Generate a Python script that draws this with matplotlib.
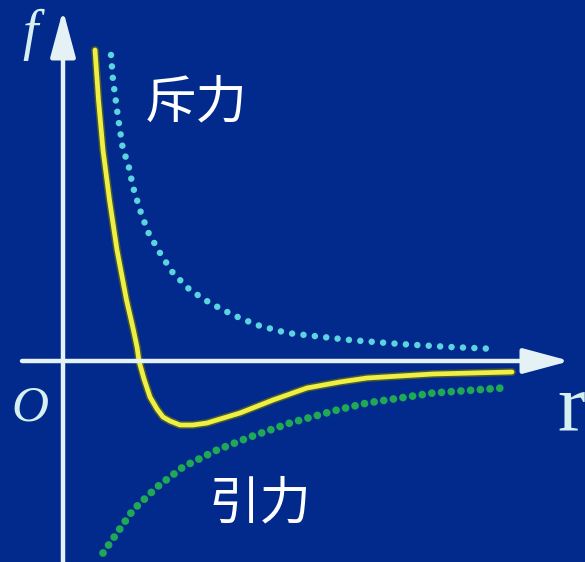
import matplotlib
matplotlib.use("Agg")
import matplotlib.pyplot as plt
import matplotlib.patheffects as pe

# net intermolecular force f(r)
net_r = [0.32, 0.355, 0.40, 0.465, 0.54, 0.635, 0.70, 0.74, 0.76, 0.81, 0.87,
         0.94, 1.00, 1.07, 1.17, 1.30, 1.44, 1.77, 2.10, 2.44, 2.77, 3.04,
         3.70, 4.49]
net_f = [3.11, 2.61, 2.11, 1.61, 1.11, 0.61, 0.33, 0.14, 0.00, -0.18, -0.36,
         -0.48, -0.56, -0.60, -0.64, -0.64, -0.62, -0.52, -0.39, -0.27,
         -0.21, -0.17, -0.13, -0.11]

# repulsive component
rep_r = [0.48, 0.50, 0.55, 0.60, 0.65, 0.70, 0.77, 0.85, 0.97, 1.10, 1.27,
         1.47, 1.70, 1.94, 2.24, 2.87, 3.37, 3.87, 4.34]
rep_f = [3.06, 2.81, 2.44, 2.11, 1.98, 1.74, 1.51, 1.29, 1.08, 0.88, 0.71,
         0.58, 0.46, 0.36, 0.28, 0.21, 0.17, 0.14, 0.12]

# attractive component
att_r = [0.40, 0.54, 0.70, 0.94, 1.20, 1.54, 1.87, 2.27, 2.74, 3.04, 3.70, 4.39]
att_f = [-1.92, -1.72, -1.49, -1.26, -1.06, -0.89, -0.76, -0.62, -0.49,
         -0.42, -0.32, -0.27]

bg = "#022a8c"
axis_col = "#e4f2f6"

fig = plt.figure(figsize=(5.85, 5.62), dpi=100)
fig.patch.set_facecolor(bg)
ax = fig.add_axes([0, 0, 1, 1])
ax.set_facecolor(bg)
ax.set_xlim(-0.63, 5.22)
ax.set_ylim(-2.01, 3.61)
ax.axis("off")

# axes with arrow heads
arrow = dict(arrowstyle="-|>,head_length=1.3,head_width=0.35",
             lw=3.2, color=axis_col, mutation_scale=22, shrinkA=0, shrinkB=0)
ax.annotate("", xy=(0, 3.51), xytext=(0, -2.1), arrowprops=arrow)
ax.annotate("", xy=(5.07, 0), xytext=(-0.41, 0), arrowprops=arrow)

# repulsion: cyan dots
ax.plot(rep_r, rep_f, color="#5cd4e0", lw=4.7, linestyle=(0, (0.001, 1.75)),
        dash_capstyle="round")
# attraction: green dots
ax.plot(att_r, att_f, color="#1fa855", lw=5.6, linestyle=(0, (0.001, 1.25)),
        dash_capstyle="round")
# resultant: yellow solid with dark rim
ax.plot(net_r, net_f, color="#eef046", lw=3.4, solid_capstyle="round",
        path_effects=[pe.Stroke(linewidth=5.6, foreground="#4a5a30"), pe.Normal()])

serif = ["Liberation Serif", "DejaVu Serif"]
ax.text(-0.33, 3.26, "f", family=serif, style="italic", fontsize=40,
        color="#d6f0f2", ha="center", va="center")
ax.text(-0.33, -0.47, "O", family=serif, style="italic", fontsize=37,
        color="#d6f0f2", ha="center", va="center")
ax.text(4.94, -0.70, "r", family=serif, fontsize=60,
        color="#d6f0f2", ha="left", va="baseline")

cjk = ["Noto Sans CJK SC", "DejaVu Sans"]
ax.text(1.33, 2.58, "斥力", family=cjk, fontsize=37, color="white",
        ha="center", va="center")
ax.text(1.97, -1.43, "引力", family=cjk, fontsize=37, color="white",
        ha="center", va="center")

fig.savefig("out.png", dpi=100, facecolor=bg)
